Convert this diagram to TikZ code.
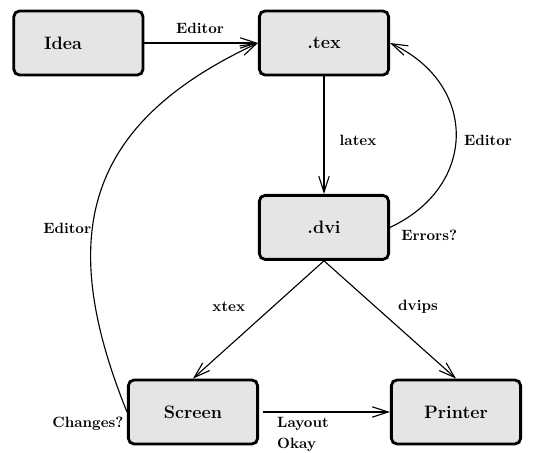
\documentclass[tikz,border=0pt]{standalone}
\usepackage{tikz}
\usetikzlibrary{arrows.meta}

\begin{document}
\begin{tikzpicture}[
    box/.style={draw,line width=2pt,rounded corners=4pt,fill=black!10,
      minimum width=3.23cm,minimum height=1.6cm,font=\fontsize{12.8}{15}\bfseries},
    lbl/.style={font=\fontsize{10.6}{13}\bfseries},
    >={Straight Barb[length=4mm,width=2.6mm]},
    thick]
            \useasboundingbox (0,0) rectangle (13.325,11.325);
            % the five boxes
            \node[box,text width=1.72cm,align=left] (idea) at (1.96,10.25) {Idea};
            \node[box] (tex) at (8.1,10.25) {.tex};
            \node[box] (dvi) at (8.1,5.64) {.dvi};
            \node[box] (screen) at (4.825,1.025) {Screen};
            \node[box] (printer) at (11.4,1.025) {Printer};
            % connectors
            \draw[->] (idea) -- (tex);
            \draw[->] (tex) -- (dvi);
            \draw[->] (dvi.east) to[out=25,in=-25,looseness=1.35] (tex.east);
            \draw[->] (dvi.south) -- (screen.north);
            \draw[->] (dvi.south) -- (printer.north);
            \draw[->,shorten <=3pt] (screen) -- (printer);
            \draw[->] (screen.west) to[out=112,in=205,looseness=1.25] (tex.west);
            % labels
            \node[lbl] (l-edit1) at (5.0,10.62) {Editor};
            \node[lbl] (l-latex) at (8.95,7.82) {latex};
            \node[lbl] (l-edit2) at (12.2,7.82) {Editor};
            \node[lbl] (l-err) at (10.73,5.45) {Errors?};
            \node[lbl] (l-edit3) at (1.68,5.62) {Editor};
            \node[lbl] (l-xtex) at (5.72,3.65) {xtex};
            \node[lbl] (l-dvips) at (10.45,3.65) {dvips};
            \node[lbl] (l-chg) at (2.2,0.72) {Changes?};
            \node[lbl,anchor=west] (l-lay) at (6.8,0.72) {Layout};
            \node[lbl,anchor=west] (l-okay) at (6.8,0.2) {Okay};
\end{tikzpicture}
\end{document}
